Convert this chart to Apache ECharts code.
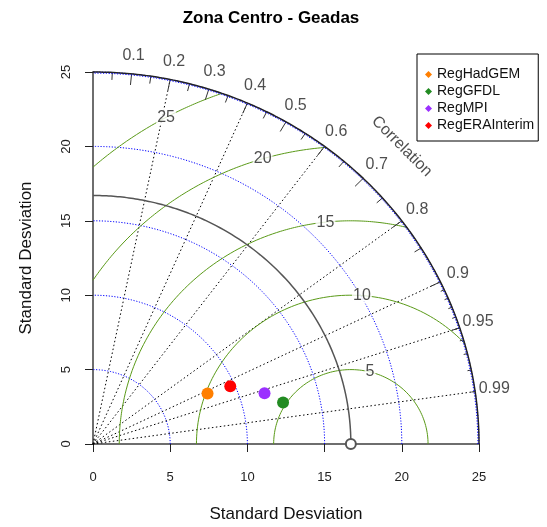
<!DOCTYPE html>
<html><head><meta charset="utf-8">
<script src="https://cdn.jsdelivr.net/npm/echarts@6/dist/echarts.min.js"></script>
<style>html,body{margin:0;padding:0;background:#fff}#c{width:547px;height:527px}</style>
</head><body><div id="c"></div>
<script>
// ---- data ----
const models = ['RegHadGEM', 'RegGFDL', 'RegMPI', 'RegERAInterim'];
const modelSD = [8.16, 12.62, 11.62, 9.70];
const modelCor = [0.909, 0.9754, 0.956, 0.9165];
const modelColors = ['#FF7F00', '#228B22', '#9B30FF', '#FF0000'];
const refSD = 16.7;
const maxSD = 25;
const sdArcs = [5, 10, 15, 20, 25];
const rmsLevels = [5, 10, 15, 20, 25];
const rmsLabelAngles = [75.6, 85.9, 96.3, 106.6, 118.6];
const corLabels = [0.1, 0.2, 0.3, 0.4, 0.5, 0.6, 0.7, 0.8, 0.9, 0.95, 0.99];
const corLines = [0.2, 0.4, 0.6, 0.8, 0.9, 0.95, 0.99];
const bigTicks = [0.1, 0.2, 0.3, 0.4, 0.5, 0.6, 0.7, 0.8, 0.9];
const medTicks = [0.05, 0.15, 0.25, 0.35, 0.45, 0.55, 0.65, 0.75, 0.85, 0.95];
const smlTicks = [0.91, 0.92, 0.93, 0.94, 0.95, 0.96, 0.97, 0.98, 0.99];

const FONT = 'Liberation Sans, Arial, sans-serif';
const D2R = Math.PI / 180;

function arc(cx, r, a0, a1, n) {
  const pts = [];
  for (let i = 0; i <= n; i++) {
    const a = (a0 + (a1 - a0) * i / n) * D2R;
    pts.push([cx + r * Math.cos(a), r * Math.sin(a)]);
  }
  return pts;
}
function lineSeries(data, style, z) {
  return {type: 'line', data: data, symbol: 'none', showSymbol: false, silent: true,
    animation: false, clip: false, z: z || 2, lineStyle: style, legendHoverLink: false};
}

const series = [];
// blue dotted sd arcs
sdArcs.forEach(r => series.push(lineSeries(arc(0, r, 0, 90, 180),
  {color: '#0000FF', width: 1, type: [1.2, 1.6]}, 2)));
// radial correlation lines
corLines.forEach(c => {
  const s = Math.sqrt(1 - c * c);
  series.push(lineSeries([[0, 0], [maxSD * c, maxSD * s]], {color: '#000', width: 1, type: [1.5, 2.5]}, 2));
});
// RMS contours
rmsLevels.forEach(g => {
  const xi = (maxSD * maxSD + refSD * refSD - g * g) / (2 * refSD);
  let a0 = 0;
  if (xi < refSD + g) a0 = Math.acos((xi - refSD) / g) / D2R;
  let a1 = 180;
  if (refSD - g < 0) a1 = Math.acos(-refSD / g) / D2R;
  series.push(lineSeries(arc(refSD, g, a0, a1, 200), {color: '#5A9A18', width: 1}, 3));
});
// outer arc
series.push(lineSeries(arc(0, maxSD, 0, 90, 360), {color: '#222', width: 1.5}, 4));
series.push(lineSeries(arc(0, maxSD * 0.997, 0, 90, 180), {color: '#0000FF', width: 1, type: [1.2, 1.6]}, 5));
// ticks
[[bigTicks, 0.97], [medTicks, 0.98], [smlTicks, 0.99]].forEach(([arr, f]) => {
  arr.forEach(c => {
    const s = Math.sqrt(1 - c * c);
    series.push(lineSeries([[maxSD * c, maxSD * s], [f * maxSD * c, f * maxSD * s]], {color: '#333', width: 1}, 4));
  });
});
// reference sd arc
series.push(lineSeries(arc(0, refSD, 0, 90, 180), {color: '#555', width: 1.5}, 4));

// correlation labels
series.push({type: 'scatter', silent: true, animation: false, clip: false, symbolSize: 1,
  itemStyle: {color: 'rgba(0,0,0,0)'}, z: 6,
  data: corLabels.map(c => [1.05 * maxSD * c, 1.05 * maxSD * Math.sqrt(1 - c * c), String(c)]),
  label: {show: true, position: 'inside', formatter: p => p.value[2], fontSize: 16, color: '#222', fontFamily: FONT}
});
series.push({type: 'scatter', silent: true, animation: false, clip: false, symbolSize: 1,
  itemStyle: {color: 'rgba(0,0,0,0)'}, z: 6,
  data: [[0.8 * maxSD, 0.8 * maxSD, 'Correlation']],
  label: {show: true, position: 'inside', rotate: -45, formatter: p => p.value[2], fontSize: 16, color: '#222', fontFamily: FONT}
});
// RMS labels
series.push({type: 'scatter', silent: true, animation: false, clip: false, symbolSize: 1,
  itemStyle: {color: 'rgba(0,0,0,0)'}, z: 6,
  data: rmsLevels.map((g, i) => [refSD + g * Math.cos(rmsLabelAngles[i] * D2R), g * Math.sin(rmsLabelAngles[i] * D2R), String(g)]),
  label: {show: true, position: 'inside', formatter: p => p.value[2], fontSize: 16, color: '#222', fontFamily: FONT,
    backgroundColor: '#fff', padding: [0, 1]}
});
// reference point
series.push({type: 'scatter', silent: true, animation: false, clip: false, symbol: 'emptyCircle', symbolSize: 10,
  itemStyle: {color: '#555', borderColor: '#555', borderWidth: 1.5, opacity: 1}, z: 7, data: [[refSD, 0]]});
// model points
models.forEach((m, i) => {
  const c = modelCor[i], sd = modelSD[i];
  series.push({type: 'scatter', name: m, animation: false, clip: false, symbol: 'circle', symbolSize: 12,
    itemStyle: {color: modelColors[i], opacity: 1}, z: 8,
    data: [[sd * c, sd * Math.sqrt(1 - c * c)]]});
});

const chart = echarts.init(document.getElementById('c'), null, {renderer: 'canvas'});
chart.setOption({
  backgroundColor: '#fff',
  animation: false,
  grid: {left: 93, top: 72, width: 386, height: 372, containLabel: false},
  xAxis: {type: 'value', min: 0, max: 25, interval: 5,
    axisLine: {show: true, onZero: false, lineStyle: {color: '#6e6e6e', width: 2}},
    axisTick: {show: true, length: 8, lineStyle: {color: '#222', width: 1}},
    axisLabel: {margin: 27, fontSize: 13, color: '#222', fontFamily: FONT},
    splitLine: {show: false}},
  yAxis: {type: 'value', min: 0, max: 25, interval: 5,
    axisLine: {show: true, onZero: false, lineStyle: {color: '#6e6e6e', width: 2}},
    axisTick: {show: true, length: 8, lineStyle: {color: '#222', width: 1}},
    axisLabel: {margin: 20, rotate: 90, fontSize: 13, color: '#222', fontFamily: FONT},
    splitLine: {show: false}},
  legend: {data: models, orient: 'vertical', left: 417, top: 54, icon: 'diamond',
    itemWidth: 7, itemHeight: 7, itemGap: 0, padding: [12, 4, 7, 8],
    borderColor: '#000', borderWidth: 1, backgroundColor: '#fff', selectedMode: false,
    itemStyle: {opacity: 1},
    textStyle: {fontSize: 14, color: '#111', fontFamily: FONT, lineHeight: 17}},
  graphic: [
    {type: 'text', x: 271, y: 18, style: {text: 'Zona Centro - Geadas', font: 'bold 17px ' + FONT, fill: '#000', textAlign: 'center', textVerticalAlign: 'middle'}},
    {type: 'text', x: 286, y: 514, style: {text: 'Standard Desviation', font: '17px ' + FONT, fill: '#111', textAlign: 'center', textVerticalAlign: 'middle'}},
    {type: 'text', x: 26, y: 258, rotation: Math.PI / 2, style: {text: 'Standard Desviation', font: '17px ' + FONT, fill: '#111', textAlign: 'center', textVerticalAlign: 'middle'}}
  ],
  series: series
});
</script></body></html>
